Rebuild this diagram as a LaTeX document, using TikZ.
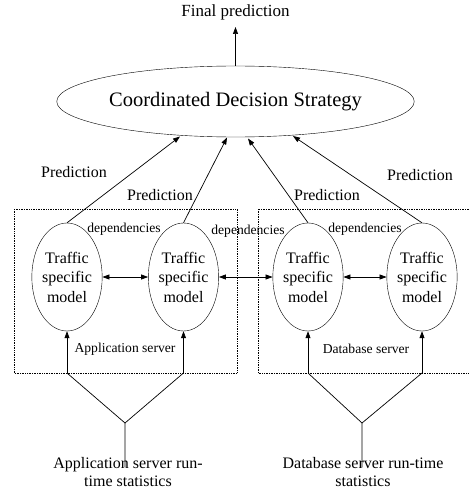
\documentclass[tikz,border=0pt]{standalone}
\usepackage{fontspec}
\setmainfont{Liberation Serif}
\usetikzlibrary{shapes.geometric,arrows.meta}
\tikzset{
  model/.style={draw, ellipse, minimum width=68pt, minimum height=108pt, inner sep=0pt, align=center, font=\fontsize{16}{19.5}\selectfont},
  lbl/.style={inner sep=0pt, font=\fontsize{16}{18}\selectfont, align=center},
  small/.style={inner sep=0pt, font=\fontsize{13.6}{16}\selectfont},
  arr/.style={-{Triangle[length=7pt,width=5pt]}, line width=0.7pt},
  darr/.style={{Triangle[length=7pt,width=5pt]}-{Triangle[length=7pt,width=5pt]}, line width=0.7pt},
  ln/.style={line width=0.7pt},
  box/.style={densely dotted, line width=0.7pt}
}
\begin{document}
\begin{tikzpicture}[x=1pt,y=-1pt]
\useasboundingbox (0,0) rectangle (469,492);
% big ellipse
\node[draw, ellipse, minimum width=313pt, minimum height=71pt, inner sep=0pt, font=\fontsize{20.5}{24}\selectfont] (cds) at (235.5,101.5) {Coordinated Decision Strategy};
\node[inner sep=0pt, font=\fontsize{17}{20}\selectfont] (fp) at (235.5,12) {Final prediction};
\coordinate (fpa) at (235.5,27);
\draw[arr] (cds.north) -- (fpa);
% boxes
\draw[box] (14,209) rectangle (237,373);
\draw[box] (469,209) -- (258,209) -- (258,373) -- (469,373);
% models
\node[model] (m1) at (67,277) {Traffic\\specific\\model};
\node[model] (m2) at (183.5,277) {Traffic\\specific\\model};
\node[model] (m3) at (308,277) {Traffic\\specific\\model};
\node[model] (m4) at (422,277) {Traffic\\specific\\model};
% dependencies
\draw[darr] (m1.east) -- (m2.west);
\draw[darr] (m2.east) -- (m3.west);
\draw[darr] (m3.east) -- (m4.west);
\node[small] (d1) at (124,229) {dependencies};
\node[small] (d2) at (248,231) {dependencies};
\node[small] (d3) at (365,229) {dependencies};
% predictions
\coordinate (c1) at (180,136.5);
\coordinate (c2) at (227,137.5);
\coordinate (c3) at (248,138.5);
\coordinate (c4) at (293,136);
\draw[arr] (m1.north) -- (c1);
\draw[arr] (m2.north) -- (c2);
\draw[arr] (m3.north) -- (c3);
\draw[arr] (m4.north) -- (c4);
\node[lbl] (p1) at (74,172) {Prediction};
\node[lbl] (p2) at (160,195) {Prediction};
\node[lbl] (p3) at (327,195) {Prediction};
\node[lbl] (p4) at (420,175) {Prediction};
% server labels
\node[small] (as) at (125,349) {Application server};
\node[small] (ds) at (366,349) {Database server};
% bottom inputs
\coordinate (b1) at (67,373);
\coordinate (b2) at (183.5,373);
\coordinate (b3) at (308,373);
\coordinate (b4) at (422,373);
\coordinate (j1) at (125,423);
\coordinate (j2) at (362,423);
\coordinate (e1) at (125,467);
\coordinate (e2) at (362,467);
\draw[arr] (b1) -- (m1.south);
\draw[arr] (b2) -- (m2.south);
\draw[arr] (b3) -- (m3.south);
\draw[arr] (b4) -- (m4.south);
\draw[ln] (e1) -- (j1) -- (b1);
\draw[ln] (j1) -- (b2);
\draw[ln] (e2) -- (j2) -- (b3);
\draw[ln] (j2) -- (b4);
\node[lbl] (t1) at (128,472) {Application server run-\\time statistics};
\node[lbl] (t2) at (363,472) {Database server run-time\\statistics};
\end{tikzpicture}
\end{document}
